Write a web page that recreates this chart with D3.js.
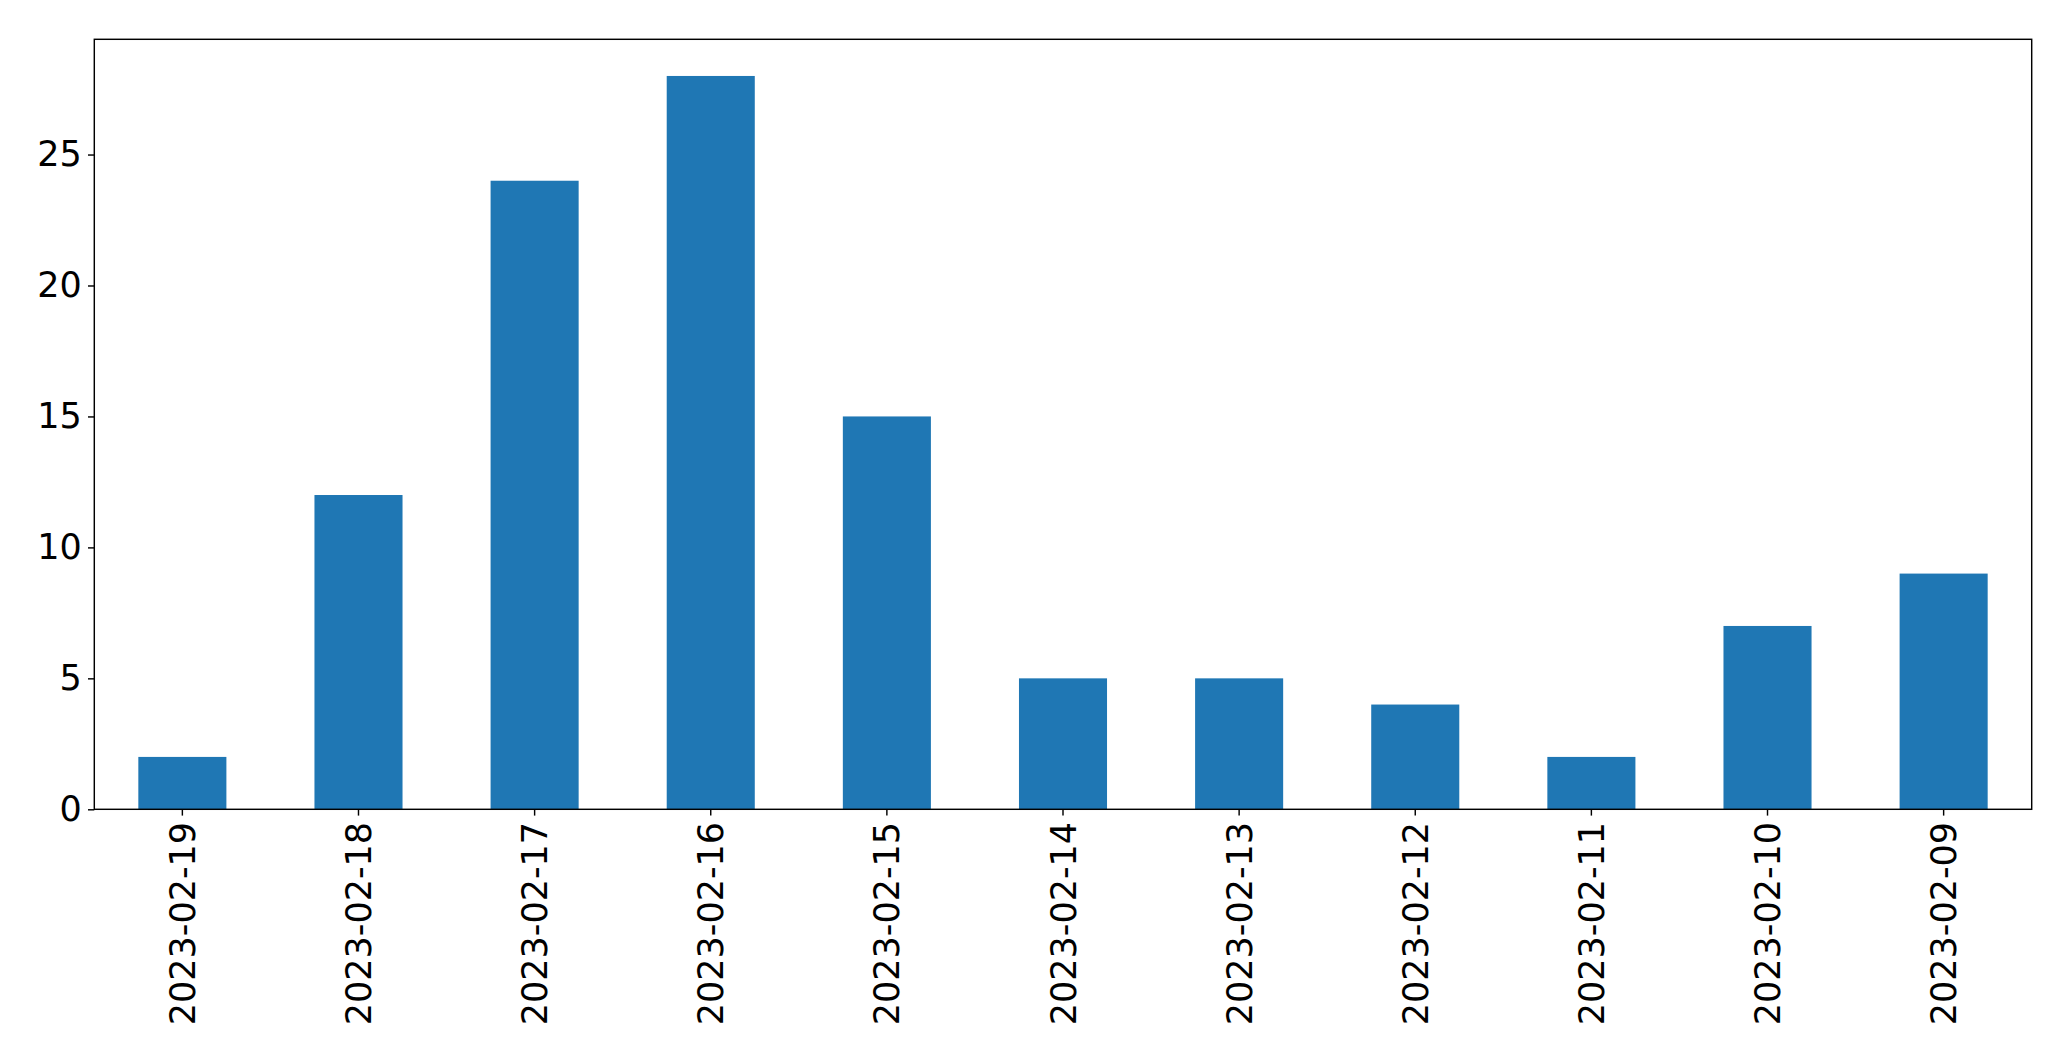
<!DOCTYPE html>
<html>
<head>
<meta charset="utf-8">
<script src="https://cdn.jsdelivr.net/npm/d3@7"></script>
<style>
html,body{margin:0;padding:0;background:#fff;}
svg{display:block;}
</style>
</head>
<body>
<script>
const categories = ["2023-02-19","2023-02-18","2023-02-17","2023-02-16","2023-02-15","2023-02-14","2023-02-13","2023-02-12","2023-02-11","2023-02-10","2023-02-09"];
const values = [2, 12, 24, 28, 15, 5, 5, 4, 2, 7, 9];
const yTicks = [0, 5, 10, 15, 20, 25];

const W = 2071, H = 1061;
const mLeft = 94.3, mRight = 2031.7, mTop = 39.3, mBottom = 809.3;
const fontSize = 35;
const tickLen = 6.3, pad = 6.3;

const svg = d3.select("body").append("svg").attr("width", W).attr("height", H);

const x = d3.scaleBand().domain(categories).range([mLeft, mRight]).paddingInner(0.5).paddingOuter(0.25);
const ymax = d3.max(values) * 1.05;
const y = d3.scaleLinear().domain([0, ymax]).range([mBottom, mTop]);

svg.append("g").selectAll("rect").data(values).join("rect")
  .attr("x", (d, i) => x(categories[i]))
  .attr("width", x.bandwidth())
  .attr("y", d => y(d))
  .attr("height", d => y(0) - y(d))
  .attr("fill", "#1f77b4");

const yAxis = d3.axisLeft(y).tickValues(yTicks).tickSize(tickLen).tickPadding(pad).tickFormat(d3.format("d"));
const gy = svg.append("g").attr("transform", `translate(${mLeft},0)`).call(yAxis);
gy.select(".domain").remove();
gy.selectAll("line").attr("stroke", "#000").attr("stroke-width", 1.44);
gy.selectAll("text").attr("font-family", "DejaVu Sans").attr("font-size", fontSize).attr("fill", "#000");

const xAxis = d3.axisBottom(x).tickSize(tickLen).tickPadding(pad);
const gx = svg.append("g").attr("transform", `translate(0,${mBottom})`).call(xAxis);
gx.select(".domain").remove();
gx.selectAll("line").attr("stroke", "#000").attr("stroke-width", 1.44);
gx.selectAll("text")
  .attr("font-family", "DejaVu Sans").attr("font-size", fontSize).attr("fill", "#000")
  .attr("text-anchor", "end")
  .attr("transform", `translate(0,${tickLen + pad}) rotate(-90)`)
  .attr("x", 0).attr("y", 0).attr("dy", "0.36em");

svg.append("rect").attr("x", mLeft).attr("y", mTop).attr("width", mRight - mLeft).attr("height", mBottom - mTop)
  .attr("fill", "none").attr("stroke", "#000").attr("stroke-width", 1.44);
</script>
</body>
</html>
